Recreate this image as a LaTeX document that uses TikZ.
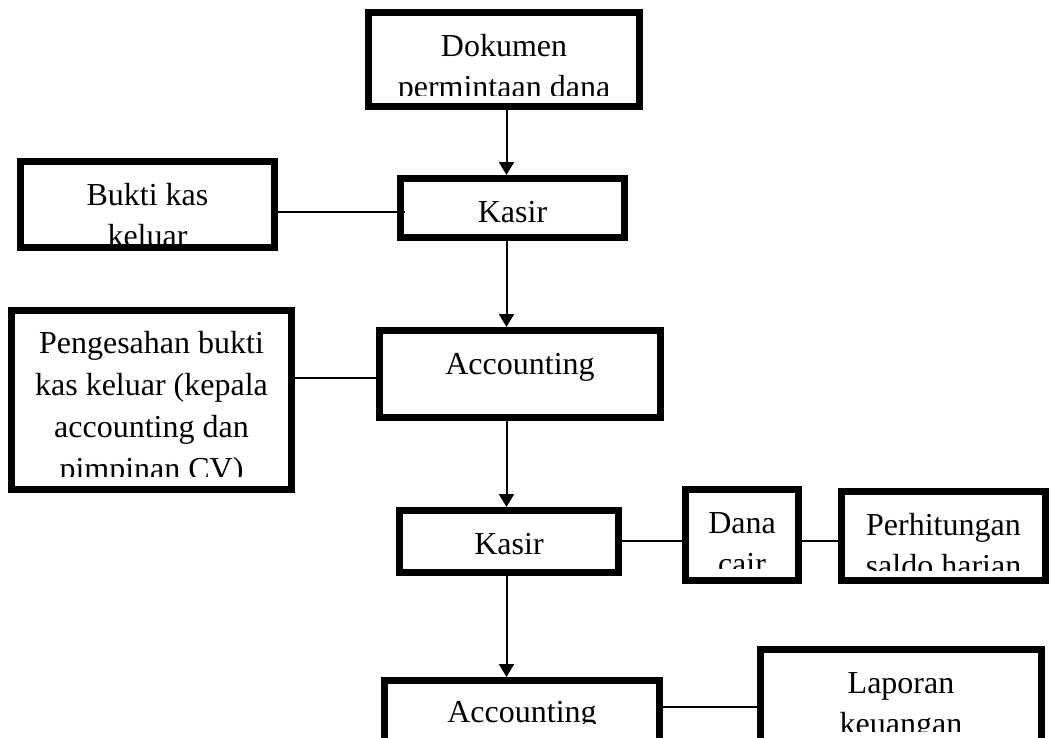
\documentclass[tikz,border=0pt]{standalone}
\usepackage{fontspec}
\setmainfont{Liberation Serif}
\usetikzlibrary{arrows.meta}
\begin{document}
\begin{tikzpicture}[x=1pt,y=-1pt,
  box/.style={draw, line width=7pt, inner sep=0pt, outer sep=3.5pt},
  txt/.style={anchor=base, inner sep=0pt, font=\fontsize{32}{38}\selectfont},
  link/.style={line width=1.6pt},
  flow/.style={line width=2pt, -{Triangle[length=13pt,width=15pt]}}]
\useasboundingbox (0,0) rectangle (1049,737);
\clip (0,0) rectangle (1049,737);

% boxes (centre, inner size = outer size minus line width)
\node[box, minimum width=271pt, minimum height=94pt]  (dok)     at (504,59.5)   {};
\node[box, minimum width=254pt, minimum height=86pt]  (bukti)   at (147.5,204.5) {};
\node[box, minimum width=224pt, minimum height=59pt]  (kasirA)  at (512.5,208)  {};
\node[box, minimum width=280pt, minimum height=179pt] (sah)     at (151.5,400)  {};
\node[box, minimum width=281pt, minimum height=87pt]  (accA)    at (520,374)    {};
\node[box, minimum width=219pt, minimum height=62pt]  (kasirB)  at (509,541.5)  {};
\node[box, minimum width=113pt, minimum height=91pt]  (dana)    at (742,535)    {};
\node[box, minimum width=204pt, minimum height=89pt]  (hitung)  at (943.5,536)  {};
\node[box, minimum width=275pt, minimum height=87pt]  (accB)    at (522,724)    {};
\node[box, minimum width=281pt, minimum height=117pt] (lapor)   at (901,708)    {};

% box texts, each cut off at the lower edge of its text area
\begin{scope}
  \clip (372,16) rectangle (636,95);
  \node[txt] (dok-1) at (504,56) {Dokumen};
  \node[txt] (dok-2) at (504,97.5) {permintaan dana};
\end{scope}
\begin{scope}
  \clip (24,165) rectangle (271,243);
  \node[txt] (bukti-1) at (147.5,205) {Bukti kas};
  \node[txt] (bukti-2) at (147.5,246.5) {keluar};
\end{scope}
\node[txt] (kasirA-1) at (512.5,222) {Kasir};
\begin{scope}
  \clip (15,314) rectangle (288,476);
  \node[txt] (sah-1) at (151.5,353) {Pengesahan bukti};
  \node[txt] (sah-2) at (151.5,395) {kas keluar (kepala};
  \node[txt] (sah-3) at (151.5,437) {accounting dan};
  \node[txt] (sah-4) at (151.5,479) {pimpinan CV)};
\end{scope}
\node[txt] (accA-1) at (520,374) {Accounting};
\node[txt] (kasirB-1) at (509,554) {Kasir};
\begin{scope}
  \clip (689,493) rectangle (795,568);
  \node[txt] (dana-1) at (742,533) {Dana};
  \node[txt] (dana-2) at (742,574.5) {cair};
\end{scope}
\begin{scope}
  \clip (845,495) rectangle (1042,570);
  \node[txt] (hitung-1) at (943.5,535) {Perhitungan};
  \node[txt] (hitung-2) at (943.5,576.5) {saldo harian};
\end{scope}
\begin{scope}
  \clip (388,684) rectangle (656,723.5);
  \node[txt] (accB-1) at (522,722) {Accounting};
\end{scope}
\begin{scope}
  \clip (764,653) rectangle (1038,731);
  \node[txt] (lapor-1) at (901,693) {Laporan};
  \node[txt] (lapor-2) at (901,734) {keuangan};
\end{scope}

% main flow down the spine
\coordinate (spine) at (506.5,0);
\draw[flow] (dok.south -| spine)    -- (kasirA.north -| spine);
\draw[flow] (kasirA.south -| spine) -- (accA.north -| spine);
\draw[flow] (accA.south -| spine)   -- (kasirB.north -| spine);
\draw[flow] (kasirB.south -| spine) -- (accB.north -| spine);

% side links
\draw[link] (bukti.east |- 0,212) -- ([xshift=8pt]kasirA.west |- 0,212);
\draw[link] (sah.east |- 0,378)   -- (accA.west |- 0,378);
\draw[link] (kasirB.east |- 0,541) -- (dana.west |- 0,541);
\draw[link] (dana.east |- 0,541)   -- (hitung.west |- 0,541);
\draw[link] (accB.east |- 0,707)   -- (lapor.west |- 0,707);
\end{tikzpicture}
\end{document}
